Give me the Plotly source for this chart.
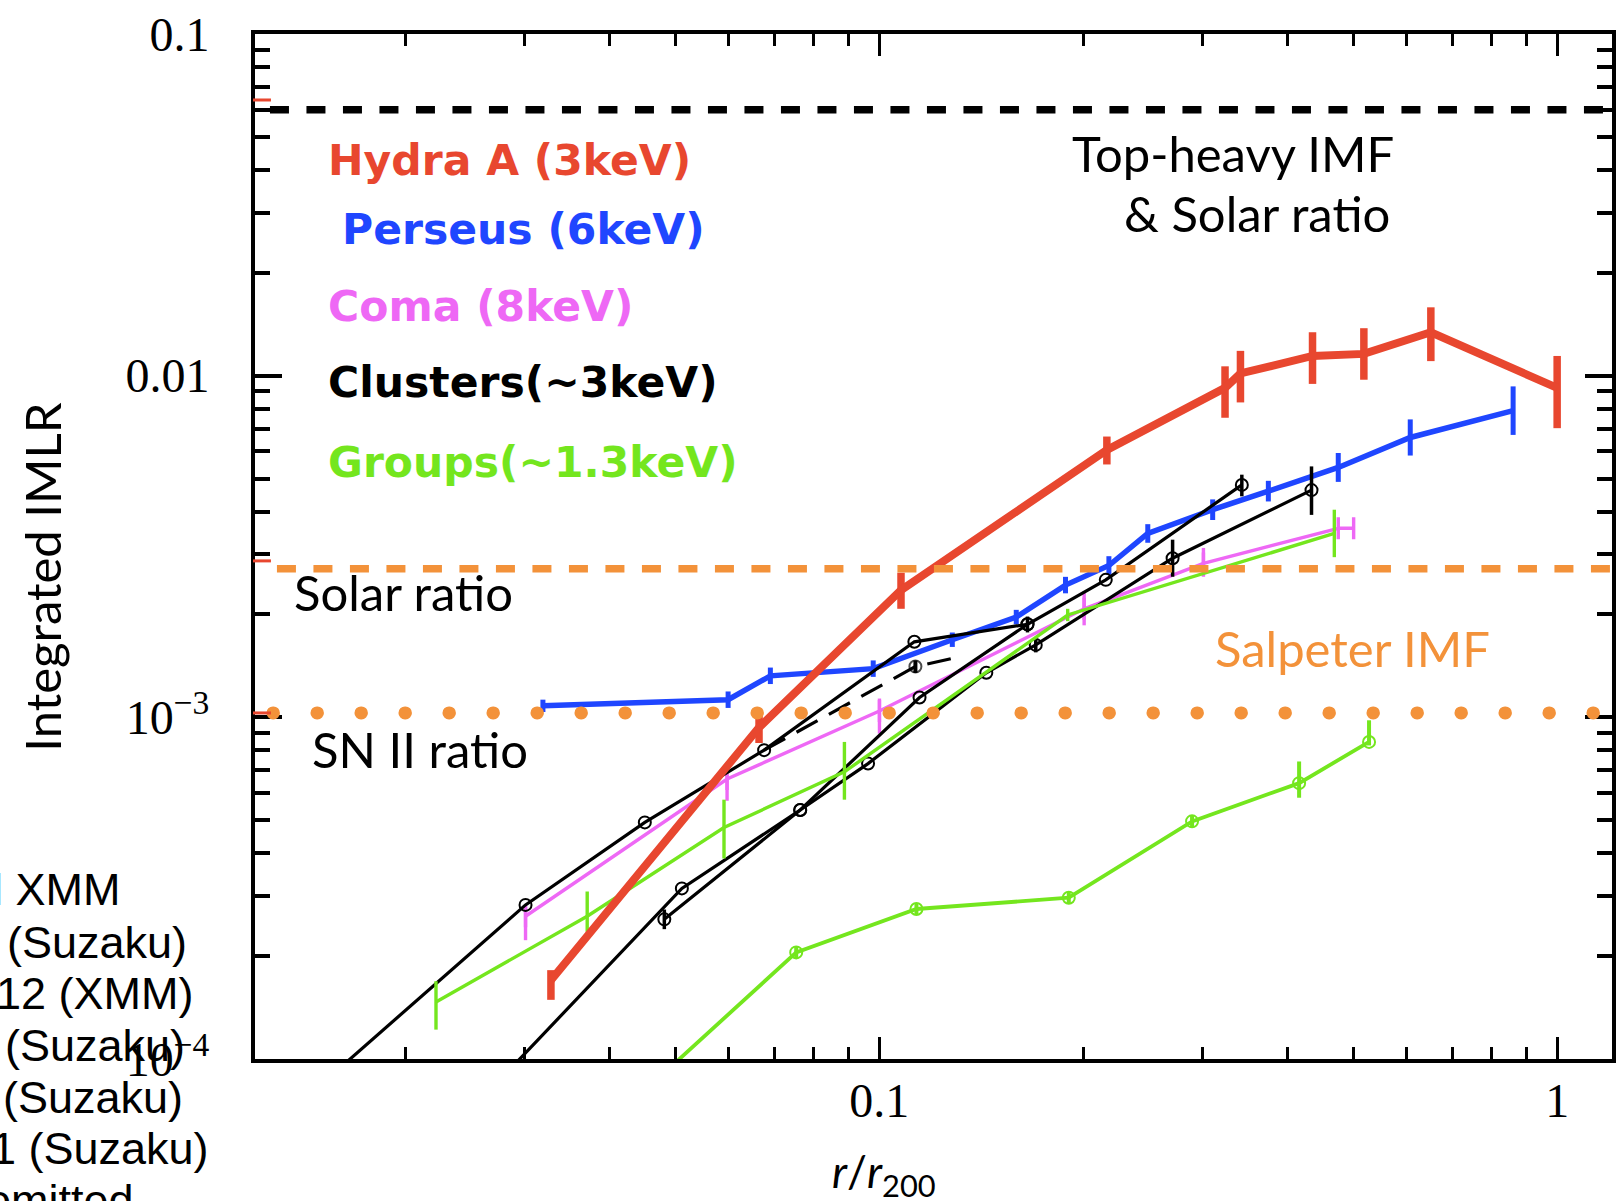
import plotly.graph_objects as go

# ---------------- data ----------------
hydra_x = [0.0328, 0.0665, 0.1077, 0.2167, 0.3237, 0.3411, 0.4357, 0.5187, 0.6512, 1.0]
hydra_y = [1.700e-4, 9.34e-4, 2.356e-3, 6.06e-3, 9.21e-3, 1.015e-2, 1.142e-2, 1.158e-2, 1.340e-2, 9.21e-3]
hydra_ep = [1.2e-5, 1.02e-4, 2.94e-4, 5.75e-4, 1.44e-3, 1.67e-3, 1.98e-3, 2.19e-3, 2.45e-3, 2.21e-3]
hydra_em = [2.1e-5, 9.3e-5, 2.78e-4, 5.63e-4, 1.68e-3, 1.80e-3, 1.96e-3, 1.85e-3, 2.37e-3, 2.19e-3]

perseus_x = [0.03192, 0.05987, 0.06911, 0.0980, 0.1282, 0.1593, 0.1883, 0.2182, 0.2490,
             0.3104, 0.3750, 0.4755, 0.6072, 0.8611]
perseus_y = [1.0805e-3, 1.1264e-3, 1.3225e-3, 1.3885e-3, 1.6872e-3, 1.9656e-3, 2.4385e-3,
             2.7823e-3, 3.4529e-3, 4.0518e-3, 4.5920e-3, 5.3880e-3, 6.5933e-3, 7.90e-3]
perseus_ep = [4.6e-5, 6.4e-5, 7.6e-5, 7.9e-5, 8.4e-5, 9.8e-5, 1.39e-4, 1.80e-4, 2.23e-4,
              2.92e-4, 3.31e-4, 5.51e-4, 8.54e-4, 1.403e-3]
perseus_em = [4.4e-5, 6.1e-5, 7.1e-5, 7.5e-5, 8.0e-5, 9.4e-5, 1.32e-4, 1.69e-4, 2.10e-4,
              2.72e-4, 3.08e-4, 5.00e-4, 7.56e-4, 1.192e-3]

coma_x = [0.03009, 0.05966, 0.1001, 0.2006, 0.3008, 0.4755]
coma_y = [2.617e-4, 6.598e-4, 1.044e-3, 2.078e-3, 2.822e-3, 3.575e-3]
coma_ep = [1.7e-5, 1.9e-5, 9.1e-5, 2.61e-4, 3.10e-4, 0.0]
coma_em = [3.9e-5, 9.0e-5, 1.48e-4, 2.19e-4, 2.43e-4, 0.0]
coma_xep = [0, 0, 0, 0, 0, 0.0255]

groups_x = [0.02220, 0.03710, 0.05904, 0.08887, 0.1897, 0.4692]
groups_y = [1.469e-4, 2.617e-4, 4.757e-4, 6.927e-4, 1.9931e-3, 3.453e-3]
groups_ep = [2.2e-5, 4.75e-5, 9.84e-5, 1.546e-4, 8.5e-5, 5.99e-4]
groups_em = [2.5e-5, 2.6e-5, 8.95e-5, 1.186e-4, 8.1e-5, 5.10e-4]

groups2_x = [0.04418, 0.07545, 0.1135, 0.1904, 0.2894, 0.4163, 0.5279]
groups2_y = [7.78e-5, 2.051e-4, 2.748e-4, 2.965e-4, 4.961e-4, 6.417e-4, 8.473e-4]
groups2_ep = [0, 8e-6, 1.1e-5, 1.2e-5, 2.0e-5, 1.01e-4, 1.33e-4]
groups2_em = [0, 8e-6, 1.1e-5, 1.2e-5, 2.0e-5, 6.0e-5, 2.0e-5]

cl1_x = [0.01444, 0.03009, 0.04512, 0.06766, 0.1127, 0.1655]
cl1_y = [7.855e-5, 2.825e-4, 4.926e-4, 8.017e-4, 1.6635e-3, 1.8723e-3]

cl2_x = [0.02709, 0.05117, 0.07648, 0.1147, 0.1655, 0.2159, 0.3427]
cl2_y = [8.367e-5, 3.157e-4, 5.356e-4, 1.1429e-3, 1.8723e-3, 2.526e-3, 4.789e-3]
cl2_ep = [0, 0, 0, 0, 1.0e-4, 0, 3.42e-4]
cl2_em = [0, 0, 0, 0, 1.0e-4, 0, 3.54e-4]

cl3_x = [0.04821, 0.07648, 0.0963, 0.1439, 0.1702, 0.2709, 0.4342]
cl3_y = [2.563e-4, 5.356e-4, 7.322e-4, 1.3503e-3, 1.6293e-3, 2.922e-3, 4.624e-3]
cl3_ep = [1.75e-5, 0, 0, 0, 8e-5, 3.89e-4, 8.01e-4]
cl3_em = [1.64e-5, 0, 0, 0, 8e-5, 3.43e-4, 7.11e-4]

cl4_x = [0.06766, 0.1131, 0.1305]
cl4_y = [8.017e-4, 1.4079e-3, 1.4985e-3]
cl4_err = [0, 6e-5, 0]

ref_top_heavy = 0.060
ref_solar = 0.00272
ref_snii = 0.00103
red_marks = [0.0641, 0.00287, 0.00103]

x_major = [0.1, 1]
x_labels = ["0.1", "1"]
x_minor = [0.02, 0.03, 0.04, 0.05, 0.06, 0.07, 0.08, 0.09,
           0.2, 0.3, 0.4, 0.5, 0.6, 0.7, 0.8, 0.9]
y_major = [1e-4, 1e-3, 1e-2, 1e-1]
y_labels = ["10<sup>\u22124</sup>", "10<sup>\u22123</sup>", "0.01", "0.1"]
y_minor = [2e-4, 3e-4, 4e-4, 5e-4, 6e-4, 7e-4, 8e-4, 9e-4,
           2e-3, 3e-3, 4e-3, 5e-3, 6e-3, 7e-3, 8e-3, 9e-3,
           0.02, 0.03, 0.04, 0.05, 0.06, 0.07, 0.08, 0.09]

legend_labels = ["Hydra A (3keV)", "Perseus (6keV)", "Coma (8keV)", "Clusters(~3keV)", "Groups(~1.3keV)"]
side_texts = ["l XMM", "(Suzaku)", "12 (XMM)", "(Suzaku)", "(Suzaku)", "1 (Suzaku)", "omitted"]

# ---------------- styling ----------------
RED = "#e8472f"
BLUE = "#1f46ff"
MAG = "#ee68f5"
GREEN = "#74e61e"
ORANGE = "#f3923a"
BLACK = "#000000"

W, H = 1618, 1201
ML, MR, MT, MB = 255, 2, 34, 142
PW, PH = W - ML - MR, H - MT - MB


def px2paper_x(px):
    return (px - ML) / PW


def px2paper_y(py):
    return (H - MB - py) / PH


fig = go.Figure()


def err(ep, em, color, th):
    return dict(type="data", symmetric=False, array=ep, arrayminus=em,
                color=color, thickness=th, width=0, visible=True)


# Coma
fig.add_trace(go.Scatter(x=coma_x, y=coma_y, mode="lines",
                         line=dict(color=MAG, width=3.4),
                         error_y=err(coma_ep, coma_em, MAG, 3.4),
                         error_x=dict(type="data", symmetric=False, array=coma_xep,
                                      arrayminus=[0] * len(coma_xep), color=MAG,
                                      thickness=3.4, width=11, visible=True)))
# Perseus
fig.add_trace(go.Scatter(x=perseus_x, y=perseus_y, mode="lines",
                         line=dict(color=BLUE, width=5.5),
                         error_y=err(perseus_ep, perseus_em, BLUE, 5)))
# Clusters
circ = dict(symbol="circle-open", size=12, color=BLACK, line=dict(width=2, color=BLACK))
fig.add_trace(go.Scatter(x=cl1_x, y=cl1_y, mode="lines+markers",
                         line=dict(color=BLACK, width=3.2), marker=circ))
fig.add_trace(go.Scatter(x=cl2_x, y=cl2_y, mode="lines+markers",
                         line=dict(color=BLACK, width=3.2), marker=circ,
                         error_y=err(cl2_ep, cl2_em, BLACK, 3.5)))
fig.add_trace(go.Scatter(x=cl3_x, y=cl3_y, mode="lines+markers",
                         line=dict(color=BLACK, width=3.2), marker=circ,
                         error_y=err(cl3_ep, cl3_em, BLACK, 3.5)))
fig.add_trace(go.Scatter(x=cl4_x, y=cl4_y, mode="lines+markers",
                         line=dict(color=BLACK, width=3.2, dash="24px,13px"),
                         marker=dict(symbol="circle-open", size=[0, 12, 0], color=BLACK,
                                     line=dict(width=2, color=BLACK)),
                         error_y=err(cl4_err, cl4_err, BLACK, 4)))
# Groups (lower, circles)
fig.add_trace(go.Scatter(x=groups2_x, y=groups2_y, mode="lines+markers",
                         line=dict(color=GREEN, width=3.8),
                         marker=dict(symbol="circle-open", size=12, color=GREEN,
                                     line=dict(width=2, color=GREEN)),
                         error_y=err(groups2_ep, groups2_em, GREEN, 4)))
# Groups (upper)
fig.add_trace(go.Scatter(x=groups_x, y=groups_y, mode="lines",
                         line=dict(color=GREEN, width=3.4),
                         error_y=err(groups_ep, groups_em, GREEN, 3.4)))
# Hydra A
fig.add_trace(go.Scatter(x=hydra_x, y=hydra_y, mode="lines",
                         line=dict(color=RED, width=8),
                         error_y=err(hydra_ep, hydra_em, RED, 7.5)))

# ---------------- reference lines ----------------
shapes = [
    dict(type="line", xref="paper", yref="y", x0=px2paper_x(270), x1=1,
         y0=ref_top_heavy, y1=ref_top_heavy, layer="above",
         line=dict(color=BLACK, width=7.5, dash="19px,17.5px")),
    dict(type="line", xref="paper", yref="y", x0=px2paper_x(277), x1=1,
         y0=ref_solar, y1=ref_solar, layer="above",
         line=dict(color=ORANGE, width=7.5, dash="19px,17.5px")),
    dict(type="line", xref="paper", yref="y", x0=px2paper_x(273), x1=1,
         y0=ref_snii, y1=ref_snii, layer="above",
         line=dict(color=ORANGE, width=13, dash="0.5px,43.5px")),
]
for v in red_marks:
    shapes.append(dict(type="line", xref="paper", yref="y", x0=px2paper_x(253),
                       x1=px2paper_x(271), y0=v, y1=v, layer="above",
                       line=dict(color=RED, width=3)))

# ---------------- annotations ----------------
ann = []
leg_font = "DejaVu Sans"
leg_pos = [(326, 160, RED), (340, 230, BLUE), (326, 306, MAG), (326, 383, BLACK), (326, 462, GREEN)]
for lab, (px, py, c) in zip(legend_labels, leg_pos):
    ann.append(dict(text="<b>" + lab + "</b>", x=px2paper_x(px), y=px2paper_y(py),
                    xref="paper", yref="paper", xanchor="left", yanchor="middle",
                    showarrow=False, font=dict(family=leg_font, size=42.5, color=c)))

gill = "Lato"
for txt, px, py, c, anchor in [
    ("Top-heavy IMF", 1236, 153, BLACK, "center"),
    ("& Solar ratio", 1260, 213, BLACK, "center"),
    ("Solar ratio", 292, 592, BLACK, "left"),
    ("SN II ratio", 310, 749, BLACK, "left"),
    ("Salpeter IMF", 1216, 648, ORANGE, "left"),
]:
    ann.append(dict(text=txt, x=px2paper_x(px), y=px2paper_y(py), xref="paper", yref="paper",
                    xanchor=anchor, yanchor="middle", showarrow=False,
                    font=dict(family=gill, size=49, color=c)))

ann.append(dict(text="Integrated IMLR", x=px2paper_x(41), y=px2paper_y(577), xref="paper",
                yref="paper", xanchor="center", yanchor="middle", textangle=-90,
                showarrow=False, font=dict(family=gill, size=49, color=BLACK)))
ann.append(dict(text="<i>r</i>/<i>r</i><sub>200</sub>", x=px2paper_x(886), y=px2paper_y(1174),
                xref="paper", yref="paper", xanchor="center", yanchor="middle",
                showarrow=False, font=dict(family=gill, size=44, color=BLACK)))

side_pos = [(123, 889), (189, 942), (196, 994), (187, 1045), (185, 1097), (211, 1148), (136, 1200)]
for txt, (px, py) in zip(side_texts, side_pos):
    ann.append(dict(text=txt, x=px2paper_x(px), y=px2paper_y(py), xref="paper", yref="paper",
                    xanchor="right", yanchor="middle", showarrow=False,
                    font=dict(family="Liberation Sans", size=45, color=BLACK)))

tickfont = dict(family="Liberation Serif", size=48, color=BLACK)
fig.update_layout(
    width=W, height=H, margin=dict(l=ML, r=MR, t=MT, b=MB, pad=0),
    paper_bgcolor="white", plot_bgcolor="white", showlegend=False,
    shapes=shapes, annotations=ann,
    xaxis=dict(type="log", range=[-1.9206, 0.0809], showline=True, linewidth=4,
               linecolor=BLACK, mirror="ticks", ticks="inside", ticklen=22, tickwidth=3,
               tickcolor=BLACK, tickmode="array", tickvals=x_major, ticktext=x_labels,
               tickfont=tickfont, showgrid=False, zeroline=False, ticklabelstandoff=-4,
               minor=dict(tickmode="array", tickvals=x_minor, ticks="inside", ticklen=12,
                          tickwidth=3, tickcolor=BLACK, showgrid=False)),
    yaxis=dict(type="log", range=[-4, -1], showline=True, linewidth=4, linecolor=BLACK,
               mirror="ticks", ticks="inside", ticklen=27, tickwidth=4, tickcolor=BLACK,
               tickmode="array", tickvals=y_major, ticktext=y_labels, tickfont=tickfont,
               showgrid=False, zeroline=False, ticklabelstandoff=32,
               minor=dict(tickmode="array", tickvals=y_minor, ticks="inside", ticklen=15,
                          tickwidth=4, tickcolor=BLACK, showgrid=False)),
)

post = """
document.body.style.margin = '0';
document.body.style.overflow = 'hidden';
var gd = document.getElementById('{plot_id}');
gd.querySelectorAll('path').forEach(function(p){
  var d = (p.style && p.style.strokeDasharray) || p.getAttribute('stroke-dasharray') || '';
  if (d.indexOf('43.5') >= 0) { p.style.strokeLinecap = 'round'; }
});
"""

fig.write_html("out.html", post_script=post, config={"displayModeBar": False})
